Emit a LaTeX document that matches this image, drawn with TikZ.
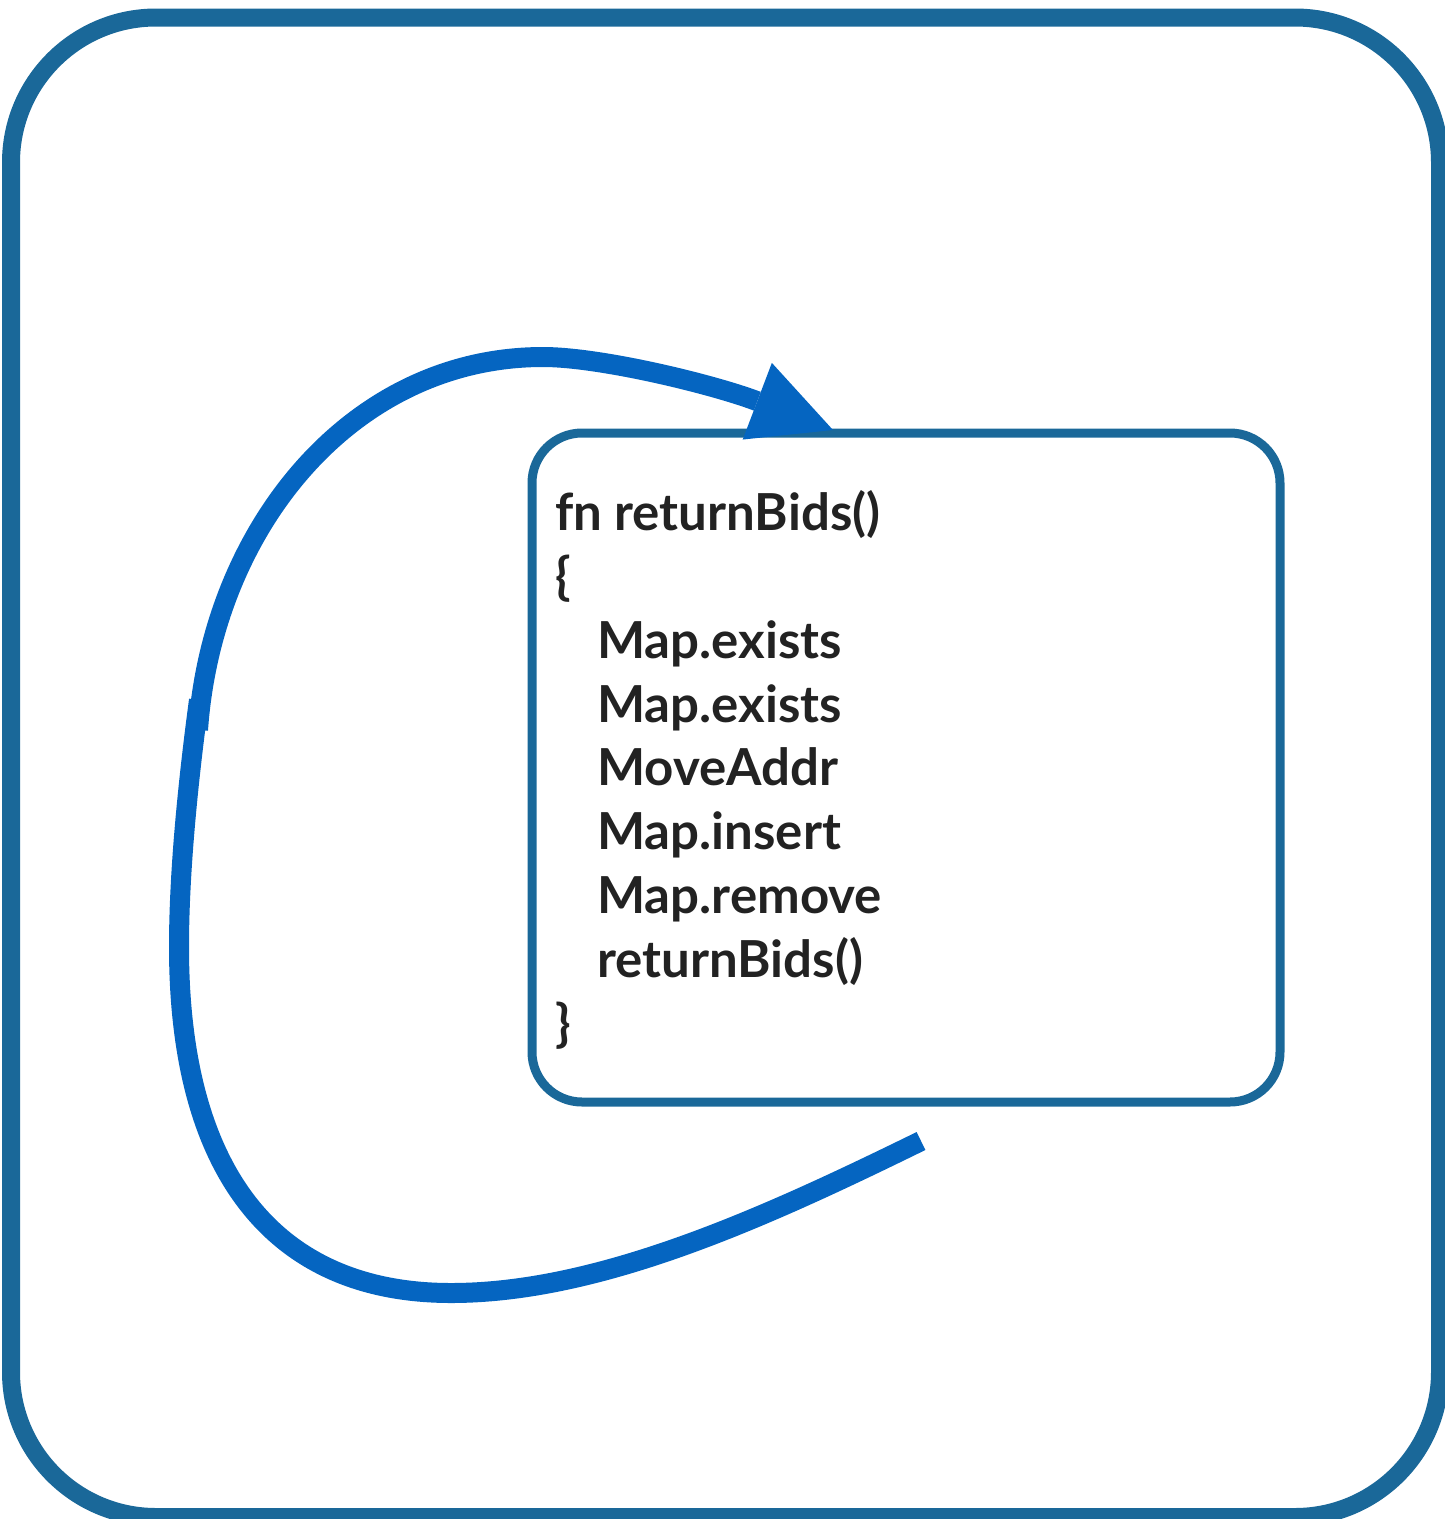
\documentclass[tikz,border=0pt]{standalone}
\usepackage{fontspec}
\setmainfont{Lato}
\usetikzlibrary{arrows.meta}
\definecolor{frameblue}{RGB}{26,104,153}
\definecolor{loopblue}{RGB}{5,101,193}
\definecolor{ink}{RGB}{34,34,34}
\begin{document}
\begin{tikzpicture}[x=1pt,y=-1pt,
  frame/.style={draw=frameblue, line width=18pt, rounded corners=145pt},
  bodybox/.style={draw=frameblue, line width=9pt, rounded corners=50pt,
    minimum width=748pt, minimum height=669pt, inner sep=0pt},
  codeline/.style={anchor=base west, inner sep=0pt, text=ink,
    font=\fontsize{51}{64}\selectfont\bfseries},
  loop/.style={draw=loopblue, line width=20pt},
  looptip/.style={-{Triangle[length=81pt,width=82pt,line width=0pt]}},
]
\useasboundingbox (0,0) rectangle (1444,1519);

% outer frame
\draw[frame] (11,17.5) rectangle (1440,1517);

% function body box
\node[bodybox] (body) at (906,767.5) {};

% code listing
\node[codeline] (l1) at (555,530)  {fn returnBids()};
\node[codeline] (l2) at (555,594)  {\{};
\node[codeline] (l3) at (597,658)  {Map.exists};
\node[codeline] (l4) at (597,722)  {Map.exists};
\node[codeline] (l5) at (597,785)  {MoveAddr};
\node[codeline] (l6) at (597,849)  {Map.insert};
\node[codeline] (l7) at (597,913)  {Map.remove};
\node[codeline] (l8) at (597,977)  {returnBids()};
\node[codeline] (l9) at (555,1041) {\}};

% recursion loop: leaves below the box, swings round the left, re-enters on top
\coordinate (loopstart) at (921,1141);
\coordinate (loopbottom) at (451,1293);
\coordinate (loopleft) at (179,947);
\coordinate (jointlow) at (199,700);
\coordinate (jointhigh) at (198,730);
\coordinate (looptop) at (543,357);
\coordinate (entry) at (833,430);

\draw[loop] (loopstart)
  .. controls (768,1216) and (601,1293) .. (loopbottom)
  .. controls (274,1293) and (179,1172) .. (loopleft)
  .. controls (179,860) and (191,760) .. (jointlow);
\draw[loop,looptip] (jointhigh)
  .. controls (212,530) and (350,357) .. (looptop)
  .. controls (600,357) and (712,384) .. (entry);
\end{tikzpicture}
\end{document}
